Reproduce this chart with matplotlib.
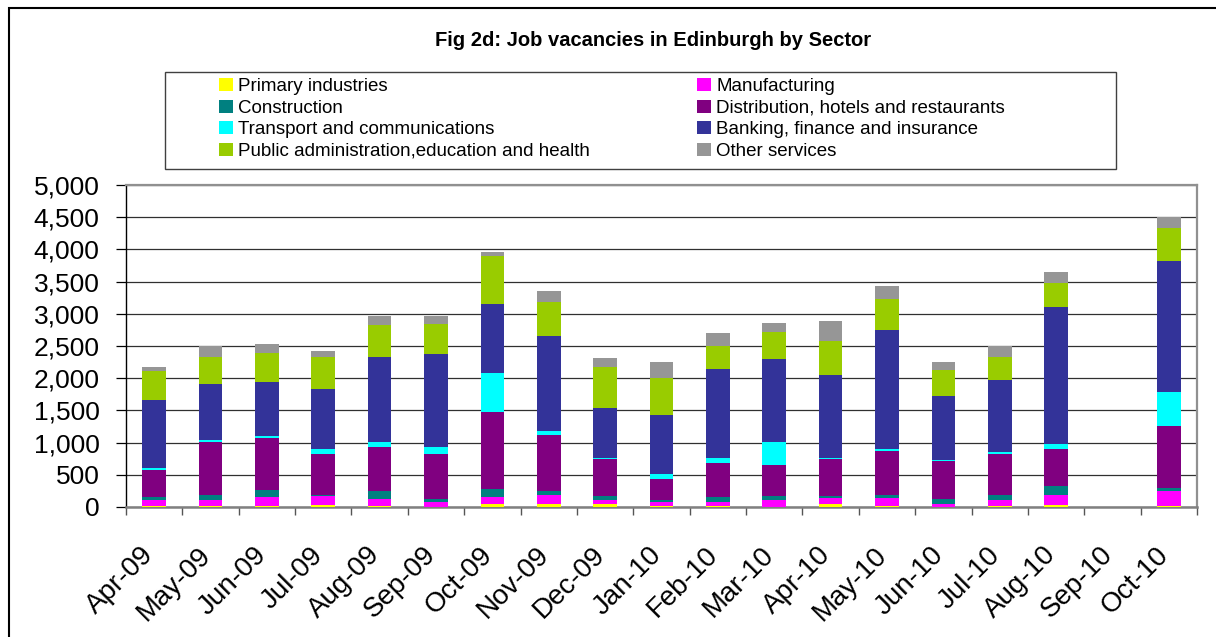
import matplotlib
matplotlib.use("Agg")
import matplotlib.pyplot as plt
import numpy as np
from matplotlib import patches
from matplotlib import transforms
from matplotlib.ticker import FuncFormatter

plt.rcParams['font.family'] = ['Liberation Sans', 'DejaVu Sans']

months = ["Apr-09", "May-09", "Jun-09", "Jul-09", "Aug-09", "Sep-09", "Oct-09",
          "Nov-09", "Dec-09", "Jan-10", "Feb-10", "Mar-10", "Apr-10", "May-10",
          "Jun-10", "Jul-10", "Aug-10", "Sep-10", "Oct-10"]

primary = [10, 10, 8, 31, 10, 5, 47, 41, 41, 10, 10, 3, 41, 10, 5, 10, 31, 0, 10]
manufacturing = [100, 100, 142, 135, 109, 68, 103, 140, 63, 63, 63, 101, 94, 125, 42, 94, 150, 0, 233]
construction = [40, 72, 109, 15, 124, 46, 125, 62, 62, 31, 77, 62, 31, 46, 72, 77, 140, 0, 47]
distribution = [420, 824, 808, 637, 684, 699, 1196, 871, 575, 326, 529, 482, 575, 684, 591, 637, 575, 0, 964]
transport = [36, 31, 36, 78, 78, 109, 606, 62, 21, 78, 77, 357, 21, 31, 15, 32, 78, 0, 528]
banking = [1052, 870, 834, 933, 1321, 1446, 1072, 1476, 771, 917, 1383, 1290, 1284, 1849, 995, 1118, 2129, 0, 2036]
public = [450, 420, 451, 497, 497, 466, 746, 528, 637, 574, 358, 419, 529, 482, 404, 358, 373, 0, 512]
other = [62, 166, 140, 93, 140, 124, 63, 171, 140, 249, 202, 140, 311, 202, 124, 171, 171, 0, 171]

sectors = ["Primary industries", "Manufacturing", "Construction",
           "Distribution, hotels and restaurants", "Transport and communications",
           "Banking, finance and insurance", "Public administration,education and health",
           "Other services"]
series = [primary, manufacturing, construction, distribution, transport, banking, public, other]
colors = ["#FFFF00", "#FF00FF", "#008080", "#800080", "#00FFFF", "#333399", "#99CC00", "#969696"]

W, H = 1216, 637


def px_x(x):
    return x / W


def px_y(y):
    return 1 - y / H


def main():
    fig = plt.figure(figsize=(W / 100, H / 100), dpi=100)
    ax = fig.add_axes([px_x(126), px_y(507), px_x(1197) - px_x(126), px_y(185) - px_y(507)])

    x = np.arange(len(months))
    bottom = np.zeros(len(months))
    handles = []
    for vals, col in zip(series, colors):
        vals = np.array(vals, dtype=float)
        b = ax.bar(x, vals, 0.42, bottom=bottom, color=col, linewidth=0, zorder=3)
        handles.append(b)
        bottom += vals

    ax.set_xlim(-0.5, len(months) - 0.5)
    ax.set_ylim(0, 5000)
    ax.set_yticks(np.arange(0, 5001, 500))
    ax.yaxis.set_major_formatter(FuncFormatter(lambda v, p: f"{v:,.0f}"))
    ax.yaxis.grid(True, color="#303030", lw=0.9, zorder=0)
    ax.set_axisbelow(True)
    ax.tick_params(axis="y", direction="out", length=7, width=0.9, pad=12,
                   labelsize=19, colors="black")

    ax.set_xticks(x)
    ax.set_xticklabels(months, rotation=45, ha="right", va="center",
                       rotation_mode="anchor", fontsize=20)
    ax.tick_params(axis="x", which="major", length=0, pad=0)
    ax.set_xticks(np.arange(-0.5, len(months)), minor=True)
    ax.tick_params(axis="x", which="minor", direction="out", length=6,
                   width=1, color="#555555")
    off = transforms.ScaledTranslation(-0.04, -0.44, fig.dpi_scale_trans)
    for lab in ax.get_xticklabels():
        lab.set_transform(lab.get_transform() + off)

    ax.spines["left"].set_color("black")
    ax.spines["left"].set_linewidth(1.0)
    ax.spines["bottom"].set_color("#808080")
    ax.spines["bottom"].set_linewidth(1.8)
    ax.spines["top"].set_color("#909090")
    ax.spines["top"].set_linewidth(1.6)
    ax.spines["right"].set_color("#909090")
    ax.spines["right"].set_linewidth(1.6)

    fig.text(px_x(653), px_y(40), "Fig 2d: Job vacancies in Edinburgh by Sector",
             ha="center", va="center", fontsize=14.5, fontweight="bold")

    # legend frame, then two single-column legends inside it
    frame = patches.Rectangle((px_x(165), px_y(169)), px_x(1116) - px_x(165),
                              px_y(72) - px_y(169), transform=fig.transFigure,
                              fill=False, ec="#404040", lw=1)
    fig.add_artist(frame)
    leg_kw = dict(loc="upper left", frameon=False, fontsize=13.5, borderpad=0,
                  borderaxespad=0, handlelength=0.72, handleheight=0.7,
                  handletextpad=0.3, labelspacing=0.24)
    col1 = [0, 2, 4, 6]
    col2 = [1, 3, 5, 7]
    fig.legend([handles[i] for i in col1], [sectors[i] for i in col1],
               bbox_to_anchor=(px_x(219), px_y(78)), **leg_kw)
    fig.legend([handles[i] for i in col2], [sectors[i] for i in col2],
               bbox_to_anchor=(px_x(697), px_y(78)), **leg_kw)

    # outer chart border (right and bottom edges fall outside the image)
    border = patches.Rectangle((px_x(9), -0.1), 1.2, px_y(8) + 0.1,
                               transform=fig.transFigure, fill=False,
                               ec="black", lw=1.5)
    fig.add_artist(border)

    fig.savefig("out.png", dpi=100)
    plt.close(fig)


if __name__ == '__main__':
    main()
